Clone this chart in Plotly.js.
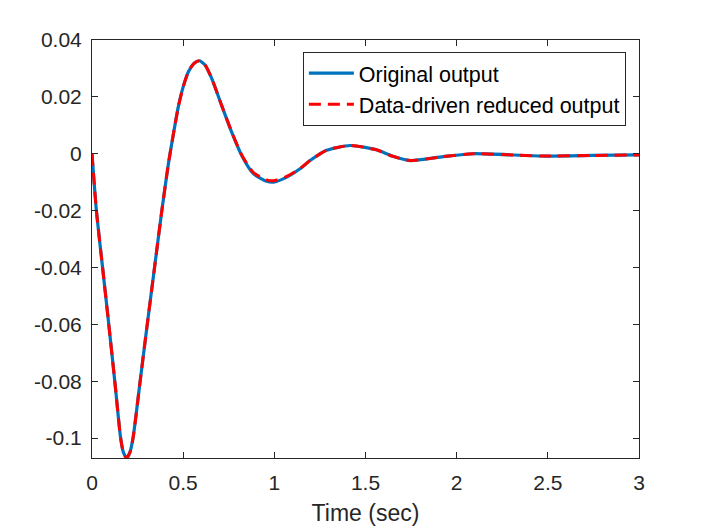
<!DOCTYPE html>
<html>
<head>
<meta charset="utf-8">
<script src="https://cdn.plot.ly/plotly-3.0.1.min.js"></script>
<style>
  html, body { margin: 0; padding: 0; background: #fff; }
  #plot { width: 706px; height: 530px; }
</style>
</head>
<body>
<div id="plot"></div>
<script>
// time samples (sec)
var timeSec = [0, 0.024, 0.058, 0.092, 0.125, 0.157, 0.172, 0.19, 0.208, 0.225,
  0.264, 0.303, 0.343, 0.383, 0.419, 0.446, 0.473, 0.5, 0.53, 0.56, 0.589,
  0.62, 0.657, 0.711, 0.766, 0.821, 0.885, 0.958, 0.995, 1.06, 1.141,
  1.196, 1.287, 1.415, 1.56, 1.65, 1.744, 1.927, 2.09, 2.47, 2.75, 3.0];

// original system output
var originalOut = [0, -0.02, -0.04, -0.06, -0.08, -0.1, -0.105, -0.107, -0.105, -0.1,
  -0.08, -0.06, -0.04, -0.02, -0.0035, 0.0068, 0.0164, 0.0235, 0.029, 0.0318, 0.0327,
  0.0312, 0.0264, 0.017, 0.0076, -0.0006, -0.007, -0.0097, -0.01, -0.0085, -0.0053,
  -0.0024, 0.0012, 0.0029, 0.0014, -0.0009, -0.0024, -0.001, 0, -0.0008, -0.0006, -0.0004];

// data-driven reduced model output
var reducedOut = [0, -0.02, -0.04, -0.06, -0.08, -0.1, -0.105, -0.107, -0.105, -0.1,
  -0.08, -0.06, -0.04, -0.02, -0.0035, 0.0068, 0.0164, 0.0235, 0.029, 0.0318, 0.0327,
  0.0312, 0.0264, 0.017, 0.0077, -0.0004, -0.0066, -0.0092, -0.0095, -0.0082, -0.0052,
  -0.0024, 0.0012, 0.0029, 0.0014, -0.0009, -0.0024, -0.001, 0, -0.0008, -0.0006, -0.0004];

var xTicks = [0, 0.5, 1, 1.5, 2, 2.5, 3];
var xTickText = ["0", "0.5", "1", "1.5", "2", "2.5", "3"];
var yTicks = [-0.1, -0.08, -0.06, -0.04, -0.02, 0, 0.02, 0.04];
var yTickText = ["-0.1", "-0.08", "-0.06", "-0.04", "-0.02", "0", "0.02", "0.04"];

var axisColor = "#262626";
var fontName = "Liberation Sans, Arial, Helvetica, sans-serif";

var original = {
  x: timeSec,
  y: originalOut,
  type: "scatter",
  mode: "lines",
  line: { color: "#0072BD", width: 3.2, shape: "spline", smoothing: 0.6 },
  name: "Original output"
};

var reduced = {
  x: timeSec,
  y: reducedOut,
  type: "scatter",
  mode: "lines",
  line: { color: "#FF0000", width: 3, dash: "12px,7px", shape: "spline", smoothing: 0.6 },
  name: "Data-driven reduced output"
};

var layout = {
  width: 706,
  height: 530,
  paper_bgcolor: "#ffffff",
  plot_bgcolor: "#ffffff",
  margin: { l: 92, r: 67, t: 40, b: 72, pad: 0 },
  font: { family: fontName, size: 21, color: axisColor },
  showlegend: true,
  legend: {
    x: 0.976, y: 0.972, xanchor: "right", yanchor: "top",
    bgcolor: "#ffffff", bordercolor: axisColor, borderwidth: 1,
    font: { family: fontName, size: 21.5, color: "#000000" },
    itemwidth: 45,
    tracegroupgap: 0
  },
  xaxis: {
    range: [0, 3],
    tickvals: xTicks,
    ticktext: xTickText,
    ticks: "inside", ticklen: 6, tickwidth: 1, tickcolor: axisColor,
    ticklabelstandoff: 6,
    showline: true, linecolor: axisColor, linewidth: 1, mirror: "ticks",
    showgrid: false, zeroline: false,
    tickfont: { family: fontName, size: 21, color: axisColor },
    title: { text: "Time (sec)", font: { family: fontName, size: 23, color: axisColor }, standoff: 11 }
  },
  yaxis: {
    range: [-0.107, 0.04],
    tickvals: yTicks,
    ticktext: yTickText,
    ticks: "inside", ticklen: 6, tickwidth: 1, tickcolor: axisColor,
    ticklabelstandoff: 5,
    showline: true, linecolor: axisColor, linewidth: 1, mirror: "ticks",
    showgrid: false, zeroline: false,
    tickfont: { family: fontName, size: 21, color: axisColor }
  }
};

Plotly.newPlot("plot", [original, reduced], layout, { displayModeBar: false, staticPlot: true });
</script>
</body>
</html>
